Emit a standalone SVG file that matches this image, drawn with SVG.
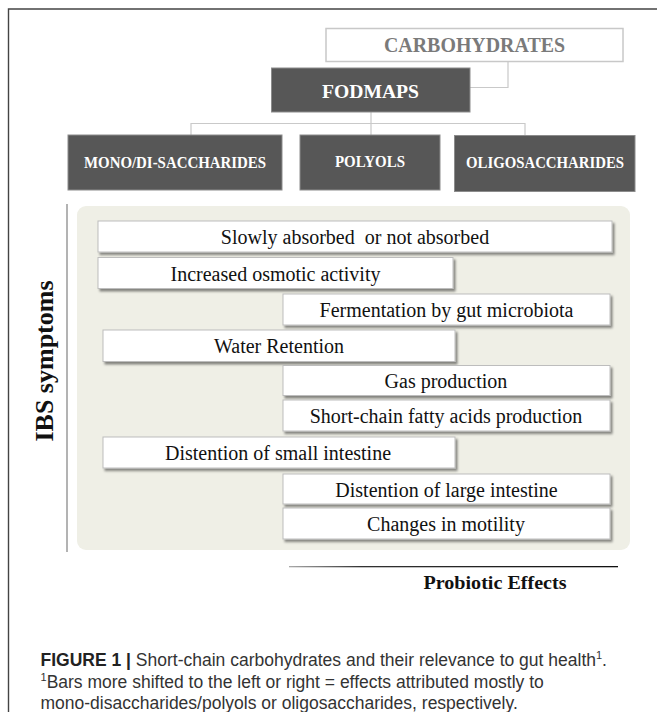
<svg xmlns="http://www.w3.org/2000/svg" width="657" height="712" viewBox="0 0 657 712">
<defs>
  <filter id="sh" x="-5%" y="-20%" width="110%" height="150%">
    <feDropShadow dx="2" dy="2.5" stdDeviation="1" flood-color="#000" flood-opacity="0.45"/>
  </filter>
  <linearGradient id="lg" x1="0" y1="0" x2="1" y2="0">
    <stop offset="0" stop-color="#aaaaaa"/>
    <stop offset="0.22" stop-color="#333333"/>
    <stop offset="1" stop-color="#111111"/>
  </linearGradient>
  <style>
    .frame{fill:none;stroke:#444;stroke-width:1.4}
    .conn{fill:none;stroke:#c9c9c9;stroke-width:1.2}
    .dark{fill:#575757;stroke:#8c8c8c;stroke-width:1}
    .dtxt{font-family:"Liberation Serif","Times New Roman",serif;font-weight:bold;fill:#ffffff;text-anchor:middle}
    .bar{fill:#ffffff;stroke:#bdbdbd;stroke-width:1;filter:url(#sh)}
    .btxt{font-family:"Liberation Serif","Times New Roman",serif;font-size:20px;fill:#111;text-anchor:middle;white-space:pre}
    .cap{font-family:"Liberation Sans",Arial,sans-serif;font-size:17.5px;fill:#333}
  </style>
</defs>
<rect width="657" height="712" fill="#ffffff"/>
<path class="frame" d="M8.5,712 V9 H657"/>

<g id="connectors">
  <path class="conn" d="M508,61 V87.5 H470"/>
  <path class="conn" d="M371,112 V123.5 M191,135 V123.5 H525 V135 M371,123.5 V135"/>
</g>

<g id="carbohydrates">
  <rect x="326" y="28.5" width="297" height="33" fill="#ffffff" stroke="#c8c8c8" stroke-width="1.5"/>
  <text x="474.5" y="52" text-anchor="middle" font-family="Liberation Serif, Times New Roman, serif" font-weight="bold" font-size="20" fill="#7a7a7a" textLength="181" lengthAdjust="spacingAndGlyphs">CARBOHYDRATES</text>
</g>

<g id="fodmaps">
  <rect class="dark" x="271.5" y="68" width="198.5" height="44"/>
  <text class="dtxt" x="370.5" y="97.5" font-size="19.5" textLength="97" lengthAdjust="spacingAndGlyphs">FODMAPS</text>
</g>

<g id="mono">
  <rect class="dark" x="68" y="135" width="214" height="55"/>
  <text class="dtxt" x="175" y="168" font-size="16" textLength="182" lengthAdjust="spacingAndGlyphs">MONO/DI-SACCHARIDES</text>
</g>
<g id="polyols">
  <rect class="dark" x="300" y="135" width="140" height="55"/>
  <text class="dtxt" x="370" y="166.5" font-size="16" textLength="70" lengthAdjust="spacingAndGlyphs">POLYOLS</text>
</g>
<g id="oligo">
  <rect class="dark" x="454.5" y="135.5" width="180.5" height="56"/>
  <text class="dtxt" x="545" y="168" font-size="16" textLength="158" lengthAdjust="spacingAndGlyphs">OLIGOSACCHARIDES</text>
</g>

<g id="panel">
  <line x1="67" y1="204" x2="67" y2="552" stroke="#808080" stroke-width="1.2"/>
  <rect x="77" y="206" width="553" height="344" rx="9" fill="#efefe6"/>
  <text transform="translate(53,361) rotate(-90)" text-anchor="middle" font-family="Liberation Serif, Times New Roman, serif" font-weight="bold" font-size="26" fill="#111">IBS symptoms</text>
</g>

<g id="bar1"><rect class="bar" x="98" y="221" width="514" height="31"/><text class="btxt" x="355" y="244">Slowly absorbed  or not absorbed</text></g>
<g id="bar2"><rect class="bar" x="98" y="257.5" width="355" height="31"/><text class="btxt" x="275.5" y="280.5">Increased osmotic activity</text></g>
<g id="bar3"><rect class="bar" x="283" y="294" width="327" height="31"/><text class="btxt" x="446.5" y="317">Fermentation by gut microbiota</text></g>
<g id="bar4"><rect class="bar" x="103" y="330" width="352" height="31.5"/><text class="btxt" x="279" y="353">Water Retention</text></g>
<g id="bar5"><rect class="bar" x="283" y="365.5" width="327" height="30"/><text class="btxt" x="446" y="388">Gas production</text></g>
<g id="bar6"><rect class="bar" x="283" y="400" width="327" height="31"/><text class="btxt" x="446" y="423">Short-chain fatty acids production</text></g>
<g id="bar7"><rect class="bar" x="103" y="437" width="352" height="31"/><text class="btxt" x="278" y="460">Distention of small intestine</text></g>
<g id="bar8"><rect class="bar" x="283" y="474" width="327" height="30"/><text class="btxt" x="446.5" y="496.5">Distention of large intestine</text></g>
<g id="bar9"><rect class="bar" x="283" y="508" width="327" height="31"/><text class="btxt" x="446" y="531">Changes in motility</text></g>

<g id="probiotic">
  <rect x="289" y="566" width="329" height="1.3" fill="url(#lg)"/>
  <text x="495" y="589" text-anchor="middle" font-family="Liberation Serif, Times New Roman, serif" font-weight="bold" font-size="19" fill="#111" textLength="143" lengthAdjust="spacingAndGlyphs">Probiotic Effects</text>
</g>

<g id="caption">
  <text class="cap" x="40.5" y="666"><tspan font-weight="bold" fill="#222">FIGURE 1 | </tspan>Short-chain carbohydrates and their relevance to gut health<tspan font-size="11" dy="-7">1</tspan><tspan dy="7">.</tspan></text>
  <text class="cap" x="40.5" y="688"><tspan font-size="11" dy="-7">1</tspan><tspan dy="7">Bars more shifted to the left or right = effects attributed mostly to</tspan></text>
  <text class="cap" x="40.5" y="708.5">mono-disaccharides/polyols or oligosaccharides, respectively.</text>
</g>
</svg>
